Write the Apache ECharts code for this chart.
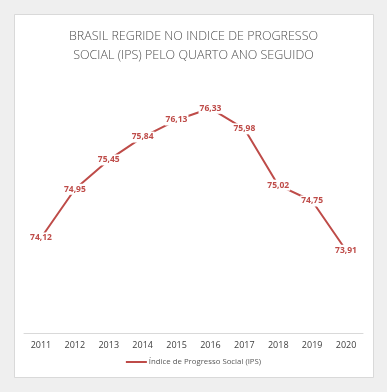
<!DOCTYPE html>
<html><head><meta charset="utf-8">
<script src="https://cdn.jsdelivr.net/npm/echarts@6/dist/echarts.min.js"></script>
<style>html,body{margin:0;padding:0;background:#efefef}#c{width:387px;height:392px}</style>
</head><body><div id="c"></div>
<script>
const categories = ['2011','2012','2013','2014','2015','2016','2017','2018','2019','2020'];
const ipsValues = [74.12, 74.95, 75.45, 75.84, 76.13, 76.33, 75.98, 75.02, 74.75, 73.91];
const seriesName = 'Índice de Progresso Social (IPS)';
const titleText = 'BRASIL REGRIDE NO INDICE DE PROGRESSO\nSOCIAL (IPS) PELO QUARTO ANO SEGUIDO';

const chart = echarts.init(document.getElementById('c'), null, {renderer: 'canvas'});
chart.setOption({
  backgroundColor: '#efefef',
  animation: false,
  graphic: [{
    type: 'rect', z: -10,
    shape: {x: 14.5, y: 14.5, width: 359, height: 363},
    style: {fill: '#ffffff', stroke: '#d9d9d9', lineWidth: 1}
  }],
  title: {
    text: titleText,
    left: 'center', top: 22,
    textStyle: {color: '#4f4f4f', fontFamily: 'Open Sans', fontWeight: 300, fontSize: 12.5, lineHeight: 19}
  },
  legend: {
    bottom: 21, left: 'center',
    icon: 'rect', itemWidth: 21, itemHeight: 2, itemGap: 4,
    textStyle: {color: '#595959', fontFamily: 'Open Sans', fontSize: 7.8, padding: [0, 0, 0, -3]},
    data: [seriesName]
  },
  grid: {left: 24, right: 24, top: 69, bottom: 59},
  xAxis: {
    type: 'category', data: categories, boundaryGap: true,
    axisLine: {lineStyle: {color: '#d9d9d9', width: 1}},
    axisTick: {show: false},
    axisLabel: {color: '#404040', fontFamily: 'Open Sans', fontSize: 9, margin: 8}
  },
  yAxis: {type: 'value', min: 72.5, max: 77, show: false, splitLine: {show: false}},
  series: [{
    name: seriesName, type: 'line', data: ipsValues,
    symbol: 'circle', symbolSize: 0.1,
    lineStyle: {color: '#be4b48', width: 2},
    itemStyle: {color: '#be4b48'},
    label: {
      show: true, position: 'inside', color: '#be4b48', fontWeight: 'bold',
      fontFamily: 'Open Sans', fontSize: 8.5, backgroundColor: '#ffffff', padding: [1, 1],
      formatter: p => p.value.toFixed(2).replace('.', ',')
    }
  }]
});
</script></body></html>
